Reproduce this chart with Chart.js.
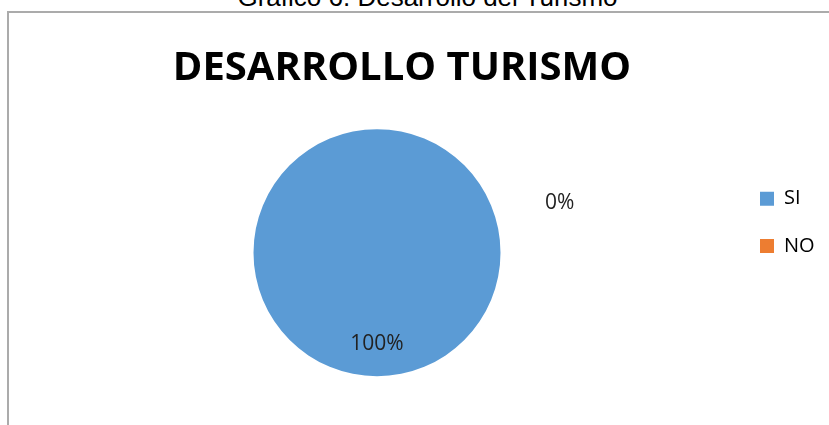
<!DOCTYPE html>
<html>
<head>
<meta charset="utf-8">
<script src="https://cdn.jsdelivr.net/npm/chart.js@4"></script>
<style>
  body { margin: 0; width: 829px; height: 425px; overflow: hidden; position: relative; background: #fff; }
  #caption { position: absolute; left: 0; top: -16px; width: 855px; text-align: center; font: 26px/26px "Liberation Sans", Arial, sans-serif; color: #000; }
  #frame { position: absolute; left: 7px; top: 11px; width: 900px; height: 500px; border-left: 2px solid #ababab; border-top: 2px solid #ababab; }
  #chartContainer { position: absolute; left: -19px; top: 0; }
</style>
</head>
<body>
<div id="caption">Gráfico 6. Desarrollo del Turismo</div>
<div id="frame"></div>
<canvas id="chartContainer" width="842" height="425"></canvas>
<script>
// Datos del gráfico
var categorias = ['SI', 'NO'];
var porcentajes = [100, 0];
var colores = ['#5B9BD5', '#ED7D31'];

Chart.defaults.font.family = '"Open Sans", sans-serif';

// Etiquetas de porcentaje sobre / junto a cada porción
var etiquetas = {
    id: 'etiquetas',
    afterDatasetsDraw: function(chart) {
        var ctx = chart.ctx;
        var meta = chart.getDatasetMeta(0);
        ctx.save();
        ctx.font = '21px "Open Sans"';
        ctx.fillStyle = '#222';
        ctx.textAlign = 'center';
        ctx.textBaseline = 'middle';
        meta.data.forEach(function(arc, i) {
            var p = arc.getProps(['x', 'y', 'startAngle', 'endAngle', 'outerRadius'], true);
            var x, y;
            if (p.endAngle - p.startAngle > 0.01) {
                var a = (p.startAngle + p.endAngle) / 2;
                x = p.x + Math.cos(a) * p.outerRadius * 0.74;
                y = p.y + Math.sin(a) * p.outerRadius * 0.74;
            } else {
                // porción vacía: la etiqueta queda fuera del círculo, como en Excel
                x = p.x + p.outerRadius * 1.48;
                y = p.y - p.outerRadius * 0.4;
            }
            ctx.fillText(porcentajes[i] + '%', x, y);
        });
        ctx.restore();
    }
};

var ctx = document.getElementById('chartContainer').getContext('2d');
var myChart = new Chart(ctx, {
    type: 'pie',
    data: {
        labels: categorias,
        datasets: [{
            data: porcentajes,
            backgroundColor: colores,
            borderWidth: 0
        }]
    },
    options: {
        responsive: false,
        animation: false,
        layout: {
            padding: { left: 0, right: 0, top: 0, bottom: 48.8 }
        },
        plugins: {
            title: {
                display: true,
                text: 'DESARROLLO TURISMO',
                color: '#000',
                font: { size: 40, weight: 'bold', lineHeight: 1.2 },
                padding: { top: 45, bottom: 36.2 }
            },
            // caja vacía a la izquierda para desplazar el área del pastel
            subtitle: {
                display: true,
                text: '',
                position: 'left',
                fullSize: false,
                font: { size: 10 },
                padding: { top: 28.3, bottom: 0 }
            },
            legend: {
                position: 'right',
                fullSize: false,
                maxWidth: 90.3,
                align: 'start',
                title: { display: true, text: '', padding: { top: 20.2, bottom: 0 }, font: { size: 10 } },
                labels: {
                    boxWidth: 14,
                    boxHeight: 14,
                    padding: 27.3,
                    color: '#000',
                    font: { size: 20 }
                }
            },
            tooltip: { enabled: false }
        }
    },
    plugins: [etiquetas]
});
</script>
</body>
</html>
